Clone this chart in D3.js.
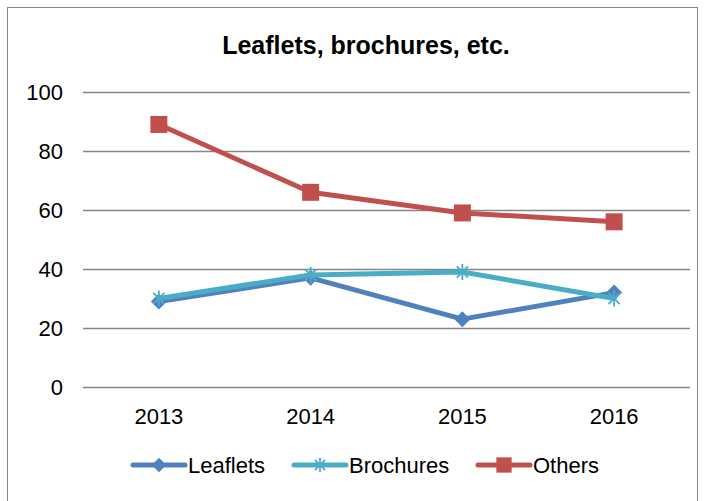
<!DOCTYPE html>
<html>
<head>
<meta charset="utf-8">
<script src="https://cdn.jsdelivr.net/npm/d3@7"></script>
<style>
  html, body { margin: 0; padding: 0; background: #fff; }
  svg { display: block; font-family: "Liberation Sans", Arial, sans-serif; }
</style>
</head>
<body>
<svg id="chart" width="704" height="501"></svg>
<script>
// Chart data
const years = ["2013", "2014", "2015", "2016"];
const leaflets = [29, 37, 23, 32];
const brochures = [30, 38, 39, 30];
const others = [89, 66, 59, 56];
const yTicks = [0, 20, 40, 60, 80, 100];
const seriesNames = ["Leaflets", "Brochures", "Others"];
const seriesColors = ["#4F81BD", "#4BACC6", "#C0504D"];

const series = [
  { name: seriesNames[0], values: leaflets, color: seriesColors[0], marker: "diamond" },
  { name: seriesNames[1], values: brochures, color: seriesColors[1], marker: "star" },
  { name: seriesNames[2], values: others, color: seriesColors[2], marker: "square" }
];

const FONT = "'Liberation Sans', Arial, sans-serif";
const svg = d3.select("#chart");
const plot = { left: 83, right: 690, top: 92, bottom: 387 };

// Outer frame
svg.append("rect")
  .attr("x", 7.5).attr("y", 7.5)
  .attr("width", 690).attr("height", 500)
  .attr("fill", "#fff").attr("stroke", "#868686").attr("stroke-width", 1);

// Title
svg.append("text")
  .attr("x", 366).attr("y", 54)
  .attr("text-anchor", "middle")
  .attr("font-size", 25).attr("font-weight", "bold")
  .attr("fill", "#000").attr("font-family", FONT)
  .text("Leaflets, brochures, etc.");

const x = d3.scaleBand().domain(years).range([plot.left, plot.right]);
const y = d3.scaleLinear().domain([0, 100]).range([plot.bottom, plot.top]);

// Horizontal gridlines + y labels
const yAxis = d3.axisLeft(y).tickValues(yTicks)
  .tickSize(-(plot.right - plot.left)).tickPadding(20).tickFormat(d3.format("d"));
const gy = svg.append("g").attr("transform", `translate(${plot.left},0)`).call(yAxis);
gy.select(".domain").remove();
gy.selectAll(".tick line").attr("stroke", "#868686").attr("stroke-width", 1.3);
gy.selectAll(".tick text").attr("font-size", 22).attr("fill", "#000").attr("font-family", FONT);

// X category labels
const xAxis = d3.axisBottom(x).tickSize(0).tickPadding(21);
const gx = svg.append("g").attr("transform", `translate(0,${plot.bottom})`).call(xAxis);
gx.select(".domain").remove();
gx.selectAll(".tick text").attr("font-size", 22).attr("fill", "#000").attr("font-family", FONT);

const cx = d => x(d) + x.bandwidth() / 2;

function drawMarker(g, type, color, size) {
  const k = size || 1;
  if (type === "diamond") {
    const r = 8 * k;
    g.append("path").attr("d", `M0,${-r}L${r},0L0,${r}L${-r},0Z`).attr("fill", color);
  } else if (type === "square") {
    const h = 8.5 * k;
    g.append("rect").attr("x", -h).attr("y", -h).attr("width", 2 * h).attr("height", 2 * h).attr("fill", color);
  } else if (type === "star") {
    const r = 8 * k;
    const p = d3.path();
    p.moveTo(-r * 0.7, -r * 0.7); p.lineTo(r * 0.7, r * 0.7);
    p.moveTo(r * 0.7, -r * 0.7); p.lineTo(-r * 0.7, r * 0.7);
    p.moveTo(0, -r); p.lineTo(0, r);
    g.append("path").attr("d", p.toString()).attr("stroke", color).attr("stroke-width", 1.8).attr("fill", "none");
  }
}

const line = d3.line().x((d, i) => cx(years[i])).y(d => y(d));

series.forEach(s => {
  svg.append("path")
    .datum(s.values)
    .attr("d", line)
    .attr("fill", "none")
    .attr("stroke", s.color)
    .attr("stroke-width", 5)
    .attr("stroke-linejoin", "round")
    .attr("stroke-linecap", "round");
  s.values.forEach((v, i) => {
    const g = svg.append("g").attr("transform", `translate(${cx(years[i])},${y(v)})`);
    drawMarker(g, s.marker, s.color);
  });
});

// Legend
const legendY = 465;
const legendX = [133, 294, 478];
series.forEach((s, i) => {
  const lg = svg.append("g").attr("transform", `translate(${legendX[i]},${legendY})`);
  lg.append("line").attr("x1", 0).attr("x2", 52).attr("y1", 0).attr("y2", 0)
    .attr("stroke", s.color).attr("stroke-width", 5).attr("stroke-linecap", "round");
  drawMarker(lg.append("g").attr("transform", "translate(26,0)"), s.marker, s.color, 0.9);
  lg.append("text").attr("x", 55).attr("y", 8).attr("font-size", 22)
    .attr("fill", "#000").attr("font-family", FONT).text(s.name);
});
</script>
</body>
</html>
